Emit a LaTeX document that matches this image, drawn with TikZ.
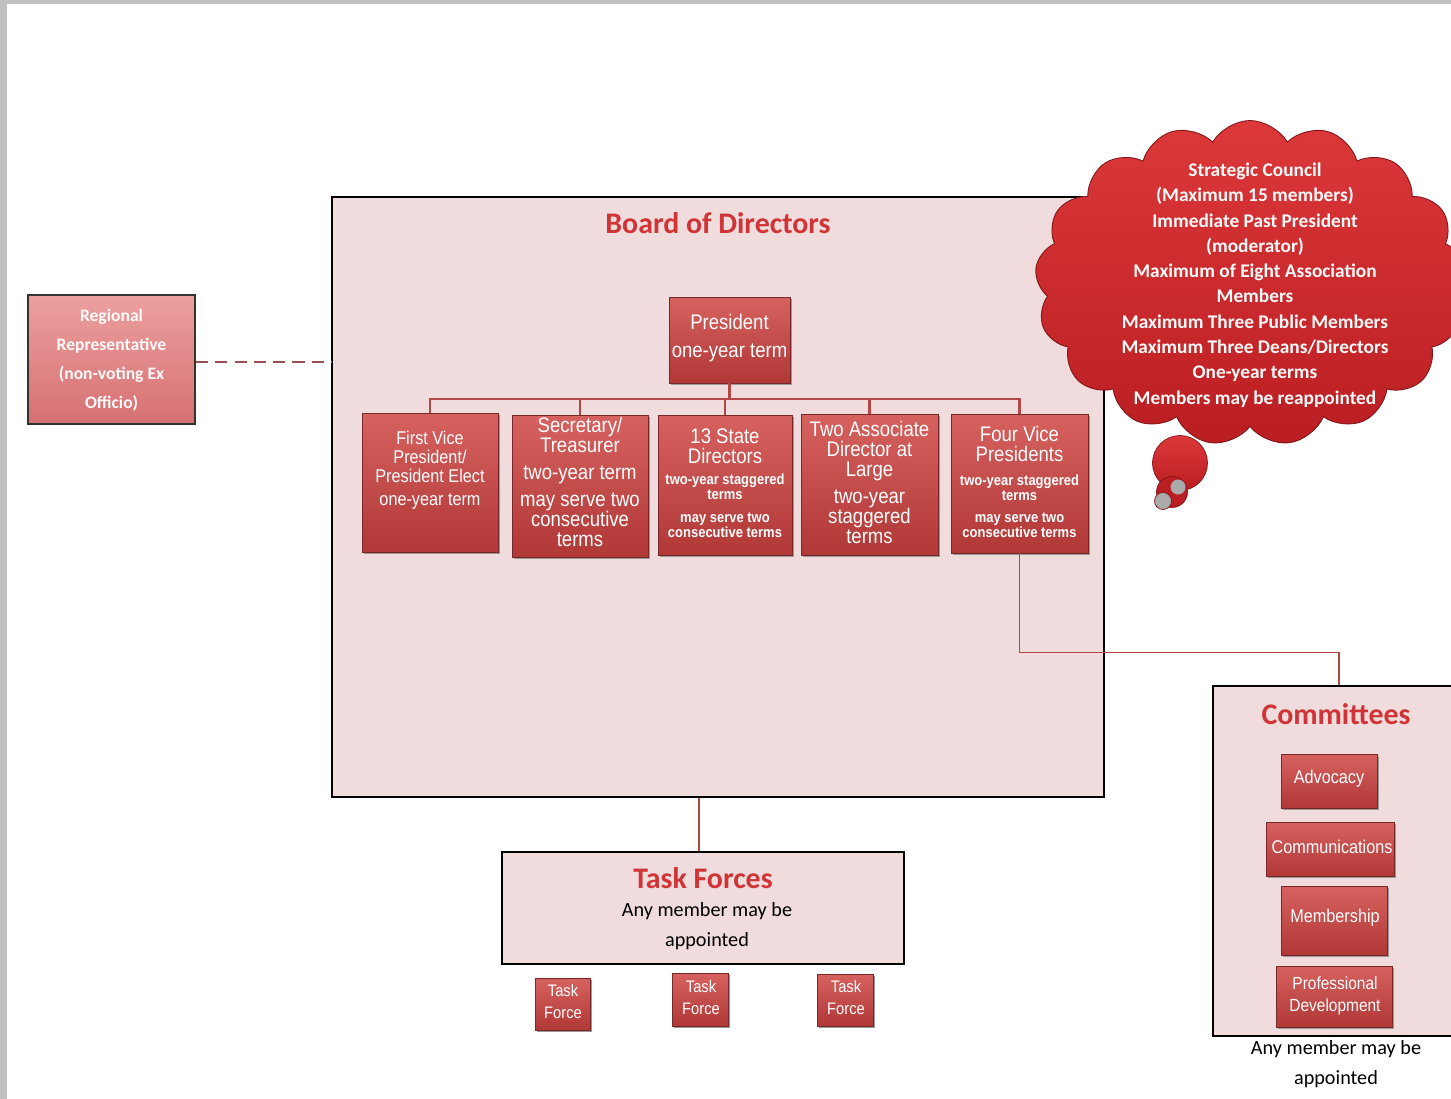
\documentclass[tikz,border=0pt]{standalone}
\usepackage{fontspec}
\setmainfont{Carlito}
\newfontfamily\arialn[FakeStretch=0.88]{Liberation Sans}
\usetikzlibrary{shapes.symbols,shadows}
\definecolor{frame}{RGB}{192,192,192}
\definecolor{boardfill}{RGB}{240,220,220}
\definecolor{boxtop}{RGB}{214,98,96}
\definecolor{boxbot}{RGB}{176,56,54}
\definecolor{boxedge}{RGB}{120,40,40}
\definecolor{conncol}{RGB}{178,72,70}
\definecolor{cloudtop}{RGB}{220,56,58}
\definecolor{cloudbot}{RGB}{186,30,34}
\definecolor{regtop}{RGB}{236,160,160}
\definecolor{regbot}{RGB}{214,112,114}
\definecolor{titlefill}{RGB}{208,52,54}
\definecolor{dashcol}{RGB}{150,80,80}
\definecolor{bubgray}{RGB}{170,170,170}
\tikzset{
 panel/.style={draw=black, line width=1pt, fill=boardfill, inner sep=0pt},
 rbox/.style={draw=boxedge, line width=0.5pt, top color=boxtop, bottom color=boxbot, inner sep=0pt,
   general shadow={fill=black!40, shadow xshift=1.2pt, shadow yshift=-1.2pt}},
 regbox/.style={draw=black!80, line width=1pt, top color=regtop, bottom color=regbot, inner sep=0pt},
 wtxt/.style={text=white, align=center, inner sep=0pt, font=\arialn},
 smtxt/.style={text=white, align=center, inner sep=0pt, font=\arialn\bfseries\fontsize{8.4}{8.4}\selectfont},
 conn/.style={draw=conncol, line width=1.3pt},
 title/.style={inner sep=0pt, text=titlefill, font=\bfseries\fontsize{17}{20}\selectfont},
 plain/.style={inner sep=0pt, align=center, font=\fontsize{11.5}{17}\selectfont},
}
\begin{document}
\begin{tikzpicture}[x=0.02cm,y=-0.02cm]
\useasboundingbox (0,0) rectangle (1451,1099);
\clip (0,0) rectangle (1451,1099);
\fill[frame] (0,0) rectangle (1451,1099);
\fill[white] (7,4) rectangle (1451,1099);

% Board of Directors
\node[panel, minimum width=15.44cm, minimum height=12cm] (board) at (718,497) {};
\node[title] (boardt) at (718,223) {Board of Directors};

% President
\node[rbox, minimum width=2.42cm, minimum height=1.72cm] (pres) at (729.5,340) {};
\node[wtxt, font=\arialn\fontsize{12}{16}\selectfont] (prest) at (729.5,338) {President\\one-year term};

% Row of boxes
\node[rbox, minimum width=2.72cm, minimum height=2.78cm] (fvp) at (430,482.5) {};
\node[rbox, minimum width=2.72cm, minimum height=2.84cm] (sec) at (580,486) {};
\node[rbox, minimum width=2.68cm, minimum height=2.80cm] (state) at (725,485) {};
\node[rbox, minimum width=2.74cm, minimum height=2.82cm] (assoc) at (869.5,484.5) {};
\node[rbox, minimum width=2.74cm, minimum height=2.78cm] (fourvp) at (1019.5,483.5) {};

\node[wtxt, anchor=north, font=\arialn\fontsize{10.5}{10.8}\selectfont] (fvpt) at (430,431)
 {First Vice\\President/\\President Elect\\[2pt]one-year term};
\node[wtxt, anchor=north, font=\arialn\fontsize{12}{11.4}\selectfont] (sect) at (580,417)
 {Secretary/\\Treasurer\\[4pt]two-year term\\[4pt]may serve two\\consecutive\\terms};
\node[wtxt, font=\arialn\fontsize{12}{11.4}\selectfont] (statet) at (725,446) {13 State\\Directors};
\node[smtxt] (states1) at (725,487) {two-year staggered\\terms};
\node[smtxt] (states2) at (725,525) {may serve two\\consecutive terms};
\node[wtxt, anchor=north, font=\arialn\fontsize{12}{11.4}\selectfont] (assoct) at (869.5,421)
 {Two Associate\\Director at\\Large\\[4pt]two-year\\staggered\\terms};
\node[wtxt, font=\arialn\fontsize{12}{11.4}\selectfont] (fourvpt) at (1019.5,444) {Four Vice\\Presidents};
\node[smtxt] (fourvps1) at (1019.5,488) {two-year staggered\\terms};
\node[smtxt] (fourvps2) at (1019.5,525) {may serve two\\consecutive terms};

% Org connectors
\coordinate (bus) at (729.5,399);
\draw[conn] (pres.south) -- (bus);
\draw[conn] (fvp.north) |- (bus) -| (fourvp.north);
\draw[conn] (sec.north) -- (sec.north |- bus);
\draw[conn] (state.north) -- (state.north |- bus);
\draw[conn] (assoc.north) -- (assoc.north |- bus);

% Regional representative
\node[regbox, minimum width=3.34cm, minimum height=2.58cm] (reg) at (111.5,359.5) {};
\node[inner sep=0pt, align=center, text=white!92!pink, font=\bfseries\fontsize{10}{16.4}\selectfont] (regt) at (111.5,360)
 {Regional\\Representative\\(non-voting Ex\\Officio)};
\draw[dashcol, line width=1.3pt, dash pattern=on 7pt off 4pt] (reg.east |- 0,362) -- (board.west |- 0,362);

% Committees
\node[panel, minimum width=5.04cm, minimum height=7cm] (com) at (1339,861) {};
\node[title] (comt) at (1336,714) {Committees};
\draw[conn, line width=1pt] (fourvp.south) -- ++(0,99) -| (com.north);
\node[rbox, minimum width=1.92cm, minimum height=1.08cm] (adv) at (1329,781) {};
\node[wtxt, font=\arialn\fontsize{10.5}{12}\selectfont] (advt) at (1329,779) {Advocacy};
\node[rbox, minimum width=2.56cm, minimum height=1.08cm] (comm) at (1330,849) {};
\node[wtxt, font=\arialn\fontsize{10.5}{12}\selectfont] (commt) at (1332,847) {Communications};
\node[rbox, minimum width=2.12cm, minimum height=1.38cm] (memb) at (1334,920.5) {};
\node[wtxt, font=\arialn\fontsize{10.5}{12}\selectfont] (membt) at (1335,918) {Membership};
\node[rbox, minimum width=2.32cm, minimum height=1.22cm] (prof) at (1334,996.5) {};
\node[wtxt, font=\arialn\fontsize{10}{12.5}\selectfont] (proft) at (1335,996) {Professional\\Development};
\node[plain] (comnote) at (1336,1064) {Any member may be\\appointed};

% Task forces
\node[panel, minimum width=8.04cm, minimum height=2.24cm] (tf) at (703,908) {};
\draw[conn, line width=1pt] (board.south -| 699,0) -- (tf.north -| 699,0);
\node[title] (tft) at (703,878) {Task Forces};
\node[plain] (tfnote) at (707,926) {Any member may be\\appointed};
\node[rbox, minimum width=1.1cm, minimum height=1.04cm] (tf1) at (562.5,1004) {};
\node[wtxt, font=\arialn\fontsize{9.5}{12.5}\selectfont] (tf1t) at (563,1002) {Task\\Force};
\node[rbox, minimum width=1.12cm, minimum height=1.06cm] (tf2) at (700,999.5) {};
\node[wtxt, font=\arialn\fontsize{9.5}{12.5}\selectfont] (tf2t) at (701,998) {Task\\Force};
\node[rbox, minimum width=1.12cm, minimum height=1.04cm] (tf3) at (845,1000) {};
\node[wtxt, font=\arialn\fontsize{9.5}{12.5}\selectfont] (tf3t) at (846,998) {Task\\Force};

% Strategic Council cloud
\node[cloud, cloud puffs=17, cloud puff arc=120, aspect=1.3, minimum width=8.6cm, minimum height=6.5cm,
  draw=cloudbot!70!black, line width=0.5pt, top color=cloudtop, bottom color=cloudbot] (cloud) at (1250,283) {};
\node[circle, minimum size=1.1cm, inner sep=0pt, draw=cloudbot!70!black, top color=cloudtop, bottom color=cloudbot] (bub1) at (1180,463) {};
\node[circle, minimum size=0.62cm, inner sep=0pt, draw=cloudbot!70!black, fill=cloudbot] (bub2) at (1172,492) {};
\node[circle, minimum size=0.3cm, inner sep=0pt, fill=bubgray] (bub3) at (1178,487) {};
\node[circle, minimum size=0.34cm, inner sep=0pt, draw=cloudbot!70!black, fill=bubgray] (bub4) at (1163,501) {};
\node[inner sep=0pt, align=center, text=white!92!pink, font=\bfseries\fontsize{11}{14.4}\selectfont] (cloudt) at (1255,285)
 {Strategic Council\\(Maximum 15 members)\\Immediate Past President\\(moderator)\\Maximum of Eight Association\\Members\\Maximum Three Public Members\\Maximum Three Deans/Directors\\One-year terms\\Members may be reappointed};
\end{tikzpicture}
\end{document}
